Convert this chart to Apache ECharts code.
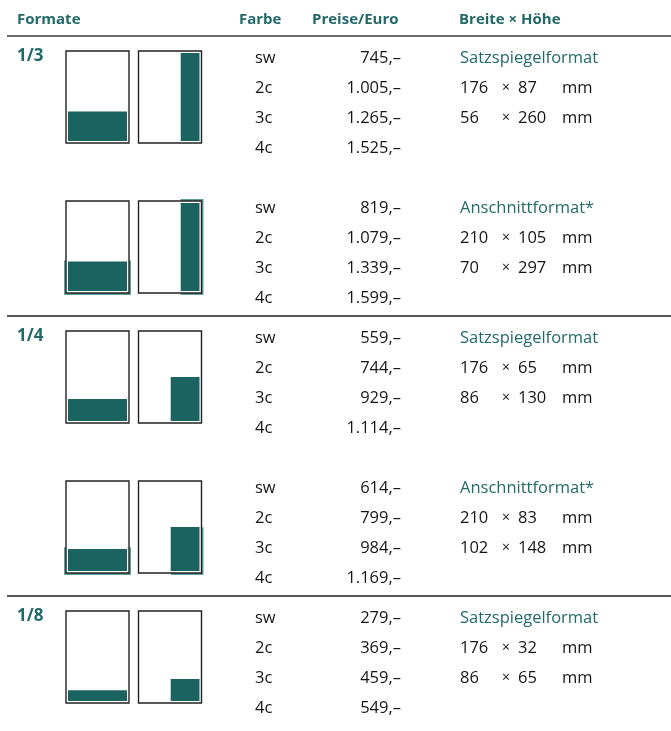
<!DOCTYPE html>
<html><head><meta charset="utf-8">
<script src="https://cdn.jsdelivr.net/npm/echarts@6/dist/echarts.min.js"></script>
<style>html,body{margin:0;padding:0;background:#fff}#c{width:671px;height:731px}</style>
</head><body><div id="c"></div>
<script>
// ---- data ----
const headers = ['Formate', 'Farbe', 'Preise/Euro', 'Breite × Höhe'];
const formats = ['1/3', '1/4', '1/8'];
const colourCodes = ['sw', '2c', '3c', '4c'];
const formatTypes = ['Satzspiegelformat', 'Anschnittformat*'];
const prices13Satz = [745, 1005, 1265, 1525];
const prices13Ansch = [819, 1079, 1339, 1599];
const prices14Satz = [559, 744, 929, 1114];
const prices14Ansch = [614, 799, 984, 1169];
const prices18Satz = [279, 369, 459, 549];
const sizes13Satz = [[176, 87], [56, 260]];
const sizes13Ansch = [[210, 105], [70, 297]];
const sizes14Satz = [[176, 65], [86, 130]];
const sizes14Ansch = [[210, 83], [102, 148]];
const sizes18Satz = [[176, 32], [86, 65]];
const typeAreaMm = [176, 260];
const pageMm = [210, 297];

const blocks = [
  { format: 0, type: 0, prices: prices13Satz, sizes: sizes13Satz, satz: sizes13Satz },
  { format: -1, type: 1, prices: prices13Ansch, sizes: sizes13Ansch, satz: sizes13Satz },
  { format: 1, type: 0, prices: prices14Satz, sizes: sizes14Satz, satz: sizes14Satz },
  { format: -1, type: 1, prices: prices14Ansch, sizes: sizes14Ansch, satz: sizes14Satz },
  { format: 2, type: 0, prices: prices18Satz, sizes: sizes18Satz, satz: sizes18Satz }
];

// ---- layout / style ----
const W = 671, H = 731;
const blockY = [58, 208, 338, 488, 618];
const rowStep = 30;
const headerY = 20, headerLineY = 36, separatorY = [316, 596];
const headerX = [17, 239, 312, 459];
const X = { format: 17, farbe: 255, priceR: 401, s1: 460, times: 506, s2: 518, mm: 562 };
const pageX = [[66, 63], [138.5, 63]];
const pageH = 92, pageOff = -7;
const TEAL = '#22696a', GREEN = '#1b6360', BLEED = '#5e9f9c', INK = '#161616';
const FONT = '"Open Sans", "Noto Sans", sans-serif';
const BODY = '16.5px ' + FONT;

function fmtPrice(n) {
  const s = n >= 1000 ? Math.floor(n / 1000) + '.' + String(n % 1000).padStart(3, '0') : String(n);
  return s + ',–';
}

function txt(api, x, y, text, o) {
  const p = api.coord([x, y]);
  return {
    type: 'text', x: p[0], y: p[1],
    style: Object.assign({ text: text, fill: INK, font: BODY, textAlign: 'left', textVerticalAlign: 'middle' }, o || {})
  };
}
function rect(api, x0, y0, x1, y1, style) {
  const a = api.coord([x0, y0]), b = api.coord([x1, y1]);
  return { type: 'rect', shape: { x: a[0], y: a[1], width: b[0] - a[0], height: b[1] - a[1] }, style: style };
}
function line(api, x0, y0, x1, y1, style) {
  const a = api.coord([x0, y0]), b = api.coord([x1, y1]);
  return { type: 'line', shape: { x1: a[0], y1: a[1], x2: b[0], y2: b[1] }, style: style };
}

function renderHeader(params, api) {
  const ch = headers.map((h, i) => txt(api, headerX[i], headerY, h, { fill: TEAL, font: 'bold 15px ' + FONT }));
  ch.push(line(api, 7, headerLineY, W, headerLineY, { stroke: '#6a6a6a', lineWidth: 1.8 }));
  separatorY.forEach(y => ch.push(line(api, 7, y, W, y, { stroke: '#1e1e1e', lineWidth: 1.4 })));
  return { type: 'group', children: ch };
}

function renderBlock(params, api) {
  const b = blocks[params.dataIndex];
  const y0 = blockY[params.dataIndex];
  const ch = [];
  if (b.format >= 0) ch.push(txt(api, X.format, y0 - 2, formats[b.format], { fill: TEAL, font: 'bold 17px ' + FONT }));
  colourCodes.forEach((c, r) => {
    const y = y0 + r * rowStep;
    ch.push(txt(api, X.farbe, y, c));
    ch.push(txt(api, X.priceR, y, fmtPrice(b.prices[r]), { textAlign: 'right' }));
  });
  ch.push(txt(api, X.s1, y0, formatTypes[b.type], { fill: TEAL }));
  b.sizes.forEach((s, r) => {
    const y = y0 + (r + 1) * rowStep;
    ch.push(txt(api, X.s1, y, String(s[0])));
    ch.push(txt(api, X.times, y, '×', { textAlign: 'center', font: '14px ' + FONT }));
    ch.push(txt(api, X.s2, y, String(s[1])));
    ch.push(txt(api, X.mm, y, 'mm'));
  });
  // icons
  pageX.forEach((pg, k) => {
    const px = pg[0], pw = pg[1], py = y0 + pageOff, ph = pageH;
    if (b.type === 1) {
      const a = b.sizes[k];
      const bw = a[0] / pageMm[0] * pw, bh = a[1] / pageMm[1] * ph;
      const bx0 = bw >= pw - 0.5 ? px - 2 : px + pw - bw;
      const by0 = bh >= ph - 0.5 ? py - 2 : py + ph - bh;
      ch.push(rect(api, bx0, by0, px + pw + 2, py + ph + 2, { fill: BLEED }));
    }
    ch.push(rect(api, px, py, px + pw, py + ph, { fill: '#fff', stroke: '#222', lineWidth: 1.4 }));
    const ix = px + 2, iy = py + 2, iw = pw - 4, ih = ph - 4;
    const s = b.satz[k];
    const gw = s[0] / typeAreaMm[0] * iw, gh = s[1] / typeAreaMm[1] * ih;
    ch.push(rect(api, ix + iw - gw, iy + ih - gh, ix + iw, iy + ih, { fill: GREEN }));
  });
  return { type: 'group', children: ch };
}

const chart = echarts.init(document.getElementById('c'), null, { renderer: 'canvas' });
chart.setOption({
  animation: false,
  backgroundColor: '#fff',
  grid: { left: 0, right: 0, top: 0, bottom: 0 },
  xAxis: { type: 'value', min: 0, max: W, show: false },
  yAxis: { type: 'value', min: 0, max: H, inverse: true, show: false },
  series: [
    { type: 'custom', renderItem: renderHeader, data: [[0, 0]], clip: false, silent: true },
    { type: 'custom', renderItem: renderBlock, data: blocks.map((b, i) => [i, i]), clip: false, silent: true }
  ]
});
</script></body></html>
